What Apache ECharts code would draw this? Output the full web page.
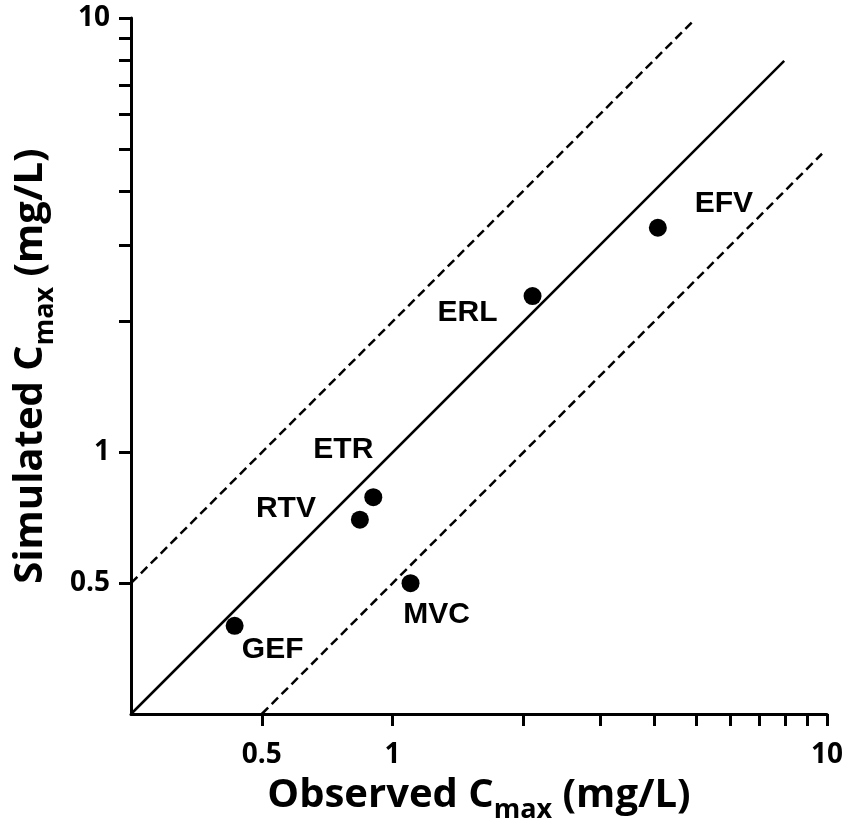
<!DOCTYPE html>
<html><head><meta charset="utf-8">
<script src="https://cdn.jsdelivr.net/npm/echarts@6/dist/echarts.min.js"></script>
<style>html,body{margin:0;padding:0;background:#fff}#c{width:857px;height:821px}</style>
</head><body><div id="c"></div>
<script>
var drugs = ['GEF','RTV','ETR','MVC','ERL','EFV'];
var observed = [0.433, 0.841, 0.903, 1.10, 2.10, 4.08];
var simulated = [0.399, 0.700, 0.789, 0.500, 2.29, 3.29];
var labelOffsets = [[38,24],[-74,-11],[-30,-47],[26,32],[-65,17],[66,-24]];
var identityLine = [[0.25,0.25],[7.97,7.97]];
var upperLine = [[0.25,0.5],[4.88,9.76]];
var lowerLine = [[0.5,0.25],[9.74,4.87]];
var tickValues = [0.5,1,2,3,4,5,6,7,8,9,10];
var labelValues = [0.5,1,10];

var chart = echarts.init(document.getElementById('c'), null, {renderer:'canvas'});
var titleFont = 'Open Sans';
function axisCommon(nameText){
  return {
    type:'log', logBase:10, min:0.25, max:10,
    name: '{t|' + nameText[0] + '}{s|max}{t|' + nameText[1] + '}',
    nameLocation:'middle',
    nameTextStyle:{rich:{
      t:{fontSize:40,fontWeight:'bold',fontFamily:titleFont,color:'#000'},
      s:{fontSize:27,fontWeight:'bold',fontFamily:titleFont,color:'#000',padding:[30,0,0,0]}
    }},
    splitLine:{show:false},
    axisLine:{show:true,lineStyle:{color:'#000',width:3}},
    axisTick:{show:true,length:12,inside:false,lineStyle:{color:'#000',width:3},customValues:tickValues},
    axisLabel:{show:true,customValues:labelValues,color:'#000',fontSize:28,fontWeight:'bold',fontFamily:titleFont,
      formatter:function(v){return String(v);}},
    minorTick:{show:false}
  };
}
var xa = axisCommon(['Observed C',' (mg/L)']);
xa.nameGap = 53; xa.axisLabel.margin = 27;
var ya = axisCommon(['Simulated C',' (mg/L)']);
ya.nameGap = 72; ya.nameRotate = 90; ya.axisLabel.margin = 21;

var pts = observed.map(function(x,i){
  return {name:drugs[i], value:[x, simulated[i]],
    label:{show:true, position:'inside', offset:labelOffsets[i], formatter:'{b}',
      color:'#000', fontSize:30, fontWeight:'bold', fontFamily:'Liberation Sans'}};
});
function lineSeries(data, type){
  return {type:'line', data:data, symbol:'none', silent:true, animation:false,
    lineStyle:{color:'#000', width:2.5, type:type}, z:1};
}
chart.setOption({
  animation:false,
  backgroundColor:'#fff',
  grid:{left:131, right:30, top:18, bottom:107, containLabel:false, outerBoundsMode:'none'},
  xAxis: xa,
  yAxis: ya,
  series:[
    lineSeries(identityLine,'solid'),
    lineSeries(upperLine,[9,5]),
    lineSeries(lowerLine,[9,5]),
    {type:'scatter', data:pts, symbol:'circle', symbolSize:18, itemStyle:{color:'#000', opacity:1}, z:3}
  ]
});
</script></body></html>
